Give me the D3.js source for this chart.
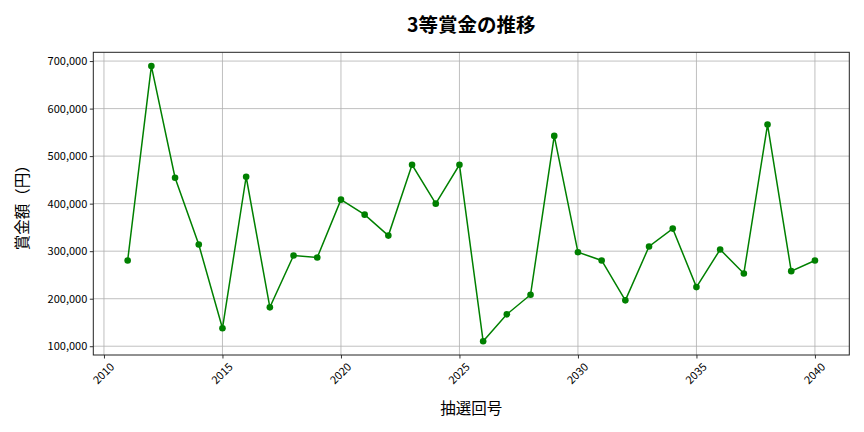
<!DOCTYPE html>
<html><head><meta charset="utf-8">
<script src="https://cdn.jsdelivr.net/npm/d3@7"></script>
<style>
body{margin:0;background:#fff;}
text{font-family:"Noto Sans CJK JP","Noto Sans",sans-serif;}
</style></head>
<body><svg id="c" width="864" height="432"></svg>
<script>
const years = [2011,2012,2013,2014,2015,2016,2017,2018,2019,2020,2021,2022,2023,2024,2025,2026,2027,2028,2029,2030,2031,2032,2033,2034,2035,2036,2037,2038,2039,2040];
const prizes = [280500,689500,454500,314000,137700,456600,181800,290900,286700,408400,376900,332800,481800,400000,481800,110500,167100,208400,542600,297900,280500,196500,309800,347500,224400,303500,253100,566400,258000,280500];
const xTicks = [2010,2015,2020,2025,2030,2035,2040];
const yTicks = [100000,200000,300000,400000,500000,600000,700000];
const titleText = "3等賞金の推移";
const xLabel = "抽選回号";
const yLabel = "賞金額（円）";

const svg = d3.select("#c");
const L=93.3, R=849.3, T=52.3, B=355;
const xmin=d3.min(years), xmax=d3.max(years), xpad=(xmax-xmin)*0.05;
const ymin=d3.min(prizes), ymax=d3.max(prizes), ypad=(ymax-ymin)*0.05;
const x=d3.scaleLinear().domain([xmin-xpad,xmax+xpad]).range([L,R]);
const y=d3.scaleLinear().domain([ymin-ypad,ymax+ypad]).range([B,T]);

// grid
svg.append("g").selectAll("line").data(xTicks).join("line")
  .attr("x1",d=>x(d)).attr("x2",d=>x(d)).attr("y1",T).attr("y2",B)
  .attr("stroke","#b0b0b0").attr("stroke-width",0.8);
svg.append("g").selectAll("line").data(yTicks).join("line")
  .attr("y1",d=>y(d)).attr("y2",d=>y(d)).attr("x1",L).attr("x2",R)
  .attr("stroke","#b0b0b0").attr("stroke-width",0.8);

// axes
const xa=svg.append("g").attr("transform",`translate(0,${B})`)
  .call(d3.axisBottom(x).tickValues(xTicks).tickFormat(d3.format("d")).tickSize(3.5).tickSizeOuter(0));
xa.selectAll("text").attr("font-size",11).attr("fill","#000")
  .attr("text-anchor","end").attr("dx",0).attr("dy",0)
  .attr("transform","translate(6,8) rotate(-45)");
const ya=svg.append("g").attr("transform",`translate(${L},0)`)
  .call(d3.axisLeft(y).tickValues(yTicks).tickFormat(d3.format(",")).tickSize(3.5).tickSizeOuter(0));
ya.selectAll("text").attr("font-size",11).attr("fill","#000").attr("x",-6);
[xa,ya].forEach(a=>{a.select(".domain").remove();a.selectAll("line").attr("stroke","#000").attr("stroke-width",0.8);});

// frame
svg.append("rect").attr("x",L).attr("y",T).attr("width",R-L).attr("height",B-T)
  .attr("fill","none").attr("stroke","#222").attr("stroke-width",1);

// line
const pts=years.map((d,i)=>[d,prizes[i]]);
svg.append("path").datum(pts).attr("fill","none").attr("stroke","#008000").attr("stroke-width",1.5)
  .attr("d",d3.line().x(d=>x(d[0])).y(d=>y(d[1])));
svg.append("g").selectAll("circle").data(pts).join("circle")
  .attr("cx",d=>x(d[0])).attr("cy",d=>y(d[1])).attr("r",3.3).attr("fill","#008000");

// labels
svg.append("text").attr("x",(L+R)/2).attr("y",32).attr("text-anchor","middle")
  .attr("font-size",19.5).attr("font-weight","bold").text(titleText);
svg.append("text").attr("x",(L+R)/2).attr("y",414).attr("text-anchor","middle")
  .attr("font-size",15.5).text(xLabel);
svg.append("text").attr("transform",`translate(28,${(T+B)/2}) rotate(-90)`).attr("text-anchor","middle")
  .attr("font-size",15.5).text(yLabel);
</script></body></html>
